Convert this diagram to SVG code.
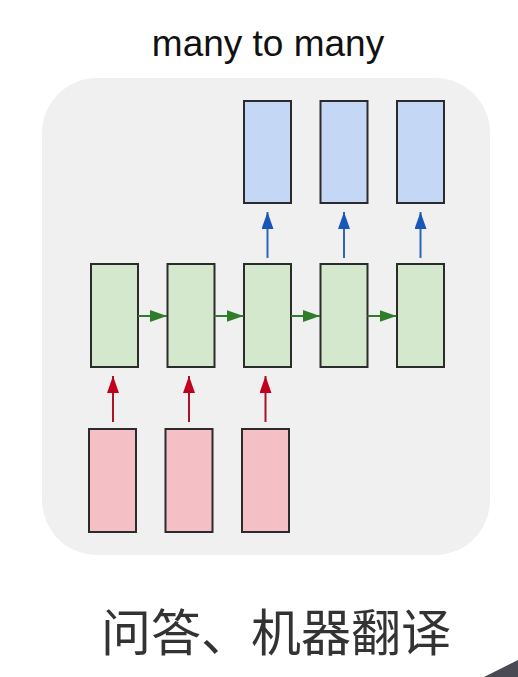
<svg xmlns="http://www.w3.org/2000/svg" width="518" height="677" viewBox="0 0 518 677">
<defs>
<style>
.box{stroke:#2b2b2b;stroke-width:2}
.g{fill:#d3e8cc}
.b{fill:#c4d7f4}
.r{fill:#f4c0c6}
.ag{stroke:#2f7d2a;stroke-width:2;fill:none}
.ab{stroke:#2f65b8;stroke-width:2;fill:none}
.ar{stroke:#a8122a;stroke-width:2;fill:none}
</style>
<marker id="mg" markerWidth="17" markerHeight="12" refX="17" refY="6" orient="auto" markerUnits="userSpaceOnUse" viewBox="0 0 17 12"><path d="M0,0 L17,6 L0,12 Z" fill="#2f7d2a"/></marker>
<marker id="mb" markerWidth="17" markerHeight="12" refX="17" refY="6" orient="auto" markerUnits="userSpaceOnUse" viewBox="0 0 17 12"><path d="M0,0 L17,6 L0,12 Z" fill="#1857b8"/></marker>
<marker id="mr" markerWidth="17" markerHeight="12" refX="17" refY="6" orient="auto" markerUnits="userSpaceOnUse" viewBox="0 0 17 12"><path d="M0,0 L17,6 L0,12 Z" fill="#c0001e"/></marker>
</defs>
<rect width="518" height="677" fill="#ffffff"/>
<rect x="42" y="78" width="448" height="477" rx="55" ry="55" fill="#f0f0f0"/>
<text x="268" y="56" font-family="'Liberation Sans', Arial, sans-serif" font-size="37" text-anchor="middle" fill="#111">many to many</text>

<g id="nodes">
<g id="h1"><rect class="box g" x="91" y="264" width="47" height="103"/></g>
<g id="h2"><rect class="box g" x="167.5" y="264" width="47" height="103"/></g>
<g id="h3"><rect class="box g" x="244" y="264" width="47" height="103"/></g>
<g id="h4"><rect class="box g" x="320.5" y="264" width="47" height="103"/></g>
<g id="h5"><rect class="box g" x="397" y="264" width="47" height="103"/></g>
<g id="y1"><rect class="box b" x="244" y="101" width="47" height="102"/></g>
<g id="y2"><rect class="box b" x="320.5" y="101" width="47" height="102"/></g>
<g id="y3"><rect class="box b" x="397" y="101" width="47" height="102"/></g>
<g id="x1"><rect class="box r" x="89" y="429" width="47" height="103"/></g>
<g id="x2"><rect class="box r" x="165.5" y="429" width="47" height="103"/></g>
<g id="x3"><rect class="box r" x="242" y="429" width="47" height="103"/></g>
</g>

<g id="connectors">
<line class="ag" x1="138" y1="316" x2="167" y2="316" marker-end="url(#mg)"/>
<line class="ag" x1="214.5" y1="316" x2="243.5" y2="316" marker-end="url(#mg)"/>
<line class="ag" x1="291" y1="316" x2="320" y2="316" marker-end="url(#mg)"/>
<line class="ag" x1="367.5" y1="316" x2="396.5" y2="316" marker-end="url(#mg)"/>
<line class="ab" x1="267.5" y1="258" x2="267.5" y2="212" marker-end="url(#mb)"/>
<line class="ab" x1="344" y1="258" x2="344" y2="212" marker-end="url(#mb)"/>
<line class="ab" x1="420.5" y1="258" x2="420.5" y2="212" marker-end="url(#mb)"/>
<line class="ar" x1="113" y1="422" x2="113" y2="376" marker-end="url(#mr)"/>
<line class="ar" x1="189" y1="422" x2="189" y2="376" marker-end="url(#mr)"/>
<line class="ar" x1="265.5" y1="422" x2="265.5" y2="376" marker-end="url(#mr)"/>
</g>

<text x="276" y="651" font-family="'Noto Sans CJK SC', 'Noto Sans', sans-serif" font-size="50" text-anchor="middle" fill="#333">问答、机器翻译</text>
<polygon points="484,677 518,660 518,677" fill="#4a4a55"/>
</svg>
